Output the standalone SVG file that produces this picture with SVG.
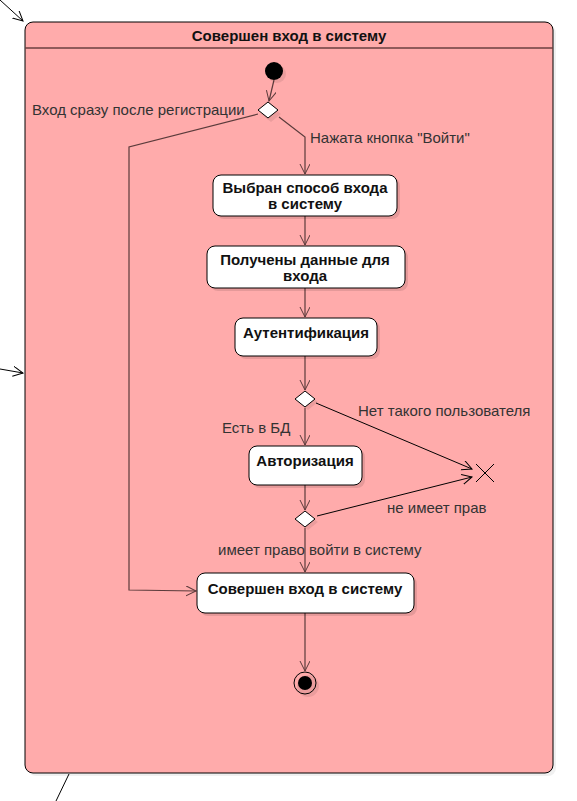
<svg xmlns="http://www.w3.org/2000/svg" width="577" height="801" viewBox="0 0 577 801">
<defs>
<marker id="arr" markerWidth="12" markerHeight="12" refX="10" refY="5" orient="auto" markerUnits="userSpaceOnUse">
<path d="M0,0 L10,5 L0,10" fill="none" stroke="#5b3b3b" stroke-width="1"/>
</marker>
<marker id="arrk" markerWidth="12" markerHeight="12" refX="10" refY="5" orient="auto" markerUnits="userSpaceOnUse">
<path d="M0,0 L10,5 L0,10" fill="none" stroke="#000" stroke-width="1"/>
</marker>
</defs>
<style>
.box{fill:#fff;stroke:#000;stroke-width:1}
.sh{fill:#000;fill-opacity:0.1}
.nt{font-family:"Liberation Sans",Arial,sans-serif;font-size:15px;font-weight:bold;fill:#111;text-anchor:middle}
.lb{font-family:"Liberation Sans",Arial,sans-serif;font-size:15px;fill:#333}
.e{fill:none;stroke:#5b3b3b;stroke-width:1.2}
.ek{fill:none;stroke:#000;stroke-width:1}
.dm{fill:#fff;stroke:#000;stroke-width:1}
</style>
<rect width="577" height="801" fill="#fff"/>
<g id="container">
<rect x="28" y="25" width="528" height="751" rx="8" fill="#000" fill-opacity="0.06"/>
<rect x="25" y="22" width="528" height="751" rx="8" fill="#ffabab" stroke="#000" stroke-width="1"/>
<line x1="25" y1="48" x2="553" y2="48" stroke="#6b3f3f" stroke-width="1.5"/>
<text class="nt" x="289" y="41">Совершен вход в систему</text>
</g>
<g id="outer-edges">
<line class="ek" x1="0" y1="0" x2="23" y2="21" marker-end="url(#arrk)"/>
<line class="ek" x1="0" y1="369" x2="23" y2="373" marker-end="url(#arrk)"/>
<line class="ek" x1="69" y1="774" x2="56" y2="801"/>
</g>
<g id="connectors">
<line class="e" x1="274" y1="80" x2="269" y2="101" marker-end="url(#arr)"/>
<polyline class="e" points="279,117 305,137 305,174" marker-end="url(#arr)"/>
<polyline class="e" points="258,114 129,147 129,590 196,591" marker-end="url(#arr)"/>
<line class="e" x1="305" y1="216" x2="305" y2="245" marker-end="url(#arr)"/>
<line class="e" x1="305" y1="288" x2="305" y2="317" marker-end="url(#arr)"/>
<line class="e" x1="305" y1="356" x2="305" y2="390" marker-end="url(#arr)"/>
<line class="e" x1="305" y1="408" x2="305" y2="445" marker-end="url(#arr)"/>
<line class="e" x1="305" y1="485" x2="305" y2="510" marker-end="url(#arr)"/>
<line class="e" x1="305" y1="528" x2="305" y2="572" marker-end="url(#arr)"/>
<line class="e" x1="305" y1="613" x2="305" y2="671" marker-end="url(#arr)"/>
<line class="ek" x1="316" y1="403" x2="472" y2="469" marker-end="url(#arrk)"/>
<line class="ek" x1="317" y1="516" x2="472" y2="477" marker-end="url(#arrk)"/>
<text class="lb" x="310" y="143">Нажата кнопка "Войти"</text>
<text class="lb" x="32" y="115">Вход сразу после регистрации</text>
<text class="lb" x="222" y="433">Есть в БД</text>
<text class="lb" x="358" y="416">Нет такого пользователя</text>
<text class="lb" x="387" y="513">не имеет прав</text>
<text class="lb" x="218" y="555">имеет право войти в систему</text>
</g>
<g id="initial">
<circle cx="277" cy="74" r="9" fill="#000" fill-opacity="0.08"/>
<circle cx="274" cy="71" r="9" fill="#000"/>
</g>
<g id="decision1">
<polygon points="271,106 281,114 271,122 261,114" fill="#000" fill-opacity="0.08"/>
<polygon class="dm" points="268,102 278,110 268,118 258,110"/>
</g>
<g id="n1">
<rect class="sh" x="216" y="178" width="184" height="41" rx="8"/>
<rect class="box" x="213" y="175" width="184" height="41" rx="8"/>
<text class="nt" x="305" y="193">Выбран способ входа</text>
<text class="nt" x="305" y="209">в систему</text>
</g>
<g id="n2">
<rect class="sh" x="210" y="249" width="198" height="42" rx="8"/>
<rect class="box" x="207" y="246" width="198" height="42" rx="8"/>
<text class="nt" x="305" y="265">Получены данные для</text>
<text class="nt" x="305" y="281">входа</text>
</g>
<g id="n3">
<rect class="sh" x="238" y="321" width="142" height="38" rx="8"/>
<rect class="box" x="235" y="318" width="142" height="38" rx="8"/>
<text class="nt" x="306" y="338">Аутентификация</text>
</g>
<g id="decision2">
<polygon points="308,394 318,402 308,410 298,402" fill="#000" fill-opacity="0.08"/>
<polygon class="dm" points="305,391 315,399 305,407 295,399"/>
</g>
<g id="n4">
<rect class="sh" x="252" y="449" width="113" height="39" rx="8"/>
<rect class="box" x="249" y="446" width="113" height="39" rx="8"/>
<text class="nt" x="305" y="466">Авторизация</text>
</g>
<g id="decision3">
<polygon points="308,514 318,522 308,530 298,522" fill="#000" fill-opacity="0.08"/>
<polygon class="dm" points="305,511 315,519 305,527 295,519"/>
</g>
<g id="flowfinal">
<line x1="476" y1="464" x2="494" y2="482" stroke="#000" stroke-width="1"/>
<line x1="494" y1="464" x2="476" y2="482" stroke="#000" stroke-width="1"/>
</g>
<g id="n5">
<rect class="sh" x="200" y="576" width="217" height="40" rx="8"/>
<rect class="box" x="197" y="573" width="217" height="40" rx="8"/>
<text class="nt" x="305" y="594">Совершен вход в систему</text>
</g>
<g id="final">
<circle cx="308" cy="686" r="11" fill="#000" fill-opacity="0.08"/>
<circle cx="305" cy="683" r="11" fill="none" stroke="#000" stroke-width="1"/>
<circle cx="305" cy="683" r="7" fill="#000"/>
</g>
</svg>
